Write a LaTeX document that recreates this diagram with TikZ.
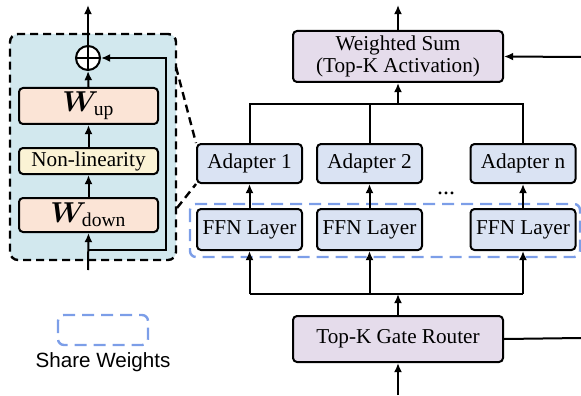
\documentclass[tikz,border=0pt]{standalone}
\usepackage{fontspec}
\usepackage{amsmath}
\usepackage{bm}
\setmainfont{Liberation Serif}
\newfontfamily\legendfont{Liberation Sans}
\usetikzlibrary{arrows.meta}
\definecolor{panelblue}{HTML}{D2E8EE}
\definecolor{peach}{HTML}{FBE4D6}
\definecolor{lightyellow}{HTML}{FBF3D5}
\definecolor{lavender}{HTML}{E5DCEB}
\definecolor{boxblue}{HTML}{DAE3F3}
\definecolor{dashblue}{HTML}{7C9EE8}
\begin{document}
\begin{tikzpicture}[x=0.5pt,y=-0.5pt,
  font=\fontsize{10.6}{12.5}\selectfont,
  box/.style={draw=black, line width=1pt, rounded corners=2pt, inner sep=0pt, align=center},
  wbox/.style={box, fill=peach, minimum width=69.5pt},
  ablock/.style={box, fill=boxblue, minimum width=52.5pt},
  pbox/.style={box, fill=lavender, minimum width=105pt},
  arr/.style={line width=1pt, -{Latex[length=4.6pt,width=4pt]}},
  ln/.style={line width=1pt},
  blackdash/.style={line width=1.2pt, dash pattern=on 4pt off 2.5pt},
  bluedash/.style={draw=dashblue, line width=1.2pt, dash pattern=on 6pt off 3.5pt, rounded corners=3pt}
]
\useasboundingbox (0,0) rectangle (581,395);

% left panel
\node[draw=black, fill=panelblue, blackdash, rounded corners=4pt, minimum width=83pt, minimum height=113pt, inner sep=0pt] (panel) at (93,147) {};
\node[draw=black, line width=1pt, fill=white, circle, minimum size=12pt, inner sep=0pt] (plus) at (88,58) {};
\draw[line width=1pt] (plus.north) -- (plus.south) (plus.west) -- (plus.east);
\node[wbox, minimum height=18pt] (wup) at (88.5,106) {{\fontsize{14}{15}\selectfont$\bm{W}_{\mathrm{up}}$}};
\node[box, fill=lightyellow, minimum width=69.5pt, minimum height=13pt] (nonlin) at (88.5,161) {Non-linearity};
\node[wbox, minimum height=17pt] (wdown) at (88.5,215) {{\fontsize{14}{15}\selectfont$\bm{W}_{\mathrm{down}}$}};
\coordinate (lin) at (88,270);
\coordinate (lout) at (88,5);
\coordinate (rsplit) at (88,250);
\coordinate (rcorner1) at (166,250);
\coordinate (rcorner2) at (166,58);
\draw[arr] (lin) -- (wdown.south);
\draw[arr] (wdown.north) -- (nonlin.south);
\draw[arr] (nonlin.north) -- (wup.south);
\draw[arr] (wup.north) -- (plus.south);
\draw[arr] (plus.north) -- (lout);
\draw[arr] (rsplit) -- (rcorner1) -- (rcorner2) -- (plus.east);

% right part
\node[pbox, minimum height=25.5pt] (wsum) at (398,56.5) {Weighted Sum\\[-1.5pt](Top-K Activation)};
\node[ablock, minimum height=19.5pt] (a1) at (249.5,163.5) {Adapter 1};
\node[ablock, minimum height=19.5pt] (a2) at (369.5,163.5) {Adapter 2};
\node[ablock, minimum height=19.5pt] (an) at (523,163.5) {Adapter n};
\node[ablock, minimum height=20.5pt] (f1) at (249.5,229.5) {FFN Layer};
\node[ablock, minimum height=20.5pt] (f2) at (369.5,229.5) {FFN Layer};
\node[ablock, minimum height=20.5pt] (fn) at (523,229.5) {FFN Layer};
\node[anchor=base, font=\fontsize{12}{14}\selectfont] (dots) at (446,194) {...};
\node[pbox, minimum height=23pt] (router) at (398,339) {Top-K Gate Router};

\draw[bluedash] (190,204) rectangle (580,257);

% upper bus
\coordinate (ub) at (398,104);
\draw[ln] (a1.north) |- (ub);
\draw[ln] (a2.north) |- (ub);
\draw[ln] (an.north) |- (ub);
\draw[arr] (ub) -- (wsum.south);
\coordinate (wsout) at (398,5);
\draw[arr] (wsum.north) -- (wsout);
\coordinate (wsin) at (581,57);
\draw[arr] (wsin) -- (wsum.east);

\draw[arr] (f1.north) -- (a1.south);
\draw[arr] (f2.north) -- (a2.south);
\draw[arr] (fn.north) -- (an.south);

% lower bus
\coordinate (lb) at (398,294);
\coordinate (lb1) at (249.5,294);
\coordinate (lb2) at (369.5,294);
\coordinate (lbn) at (523,294);
\draw[ln] (lb1) -- (lbn);
\draw[arr] (lb1) -- (f1.south);
\draw[arr] (lb2) -- (f2.south);
\draw[arr] (lbn) -- (fn.south);
\draw[arr] (router.north) -- (lb);
\coordinate (rin) at (398,395);
\draw[arr] (rin) -- (router.south);
\coordinate (rout) at (581,338);
\draw[ln] (router.east) -- (rout);

% zoom lines
\coordinate (z1) at (176,67);
\coordinate (z2) at (177,208);
\draw[blackdash] (z1) -- (a1.north west);
\draw[blackdash] (z2) -- (a1.south west);

% legend
\draw[bluedash] (58,315) rectangle (148,345);
\node[font=\legendfont\fontsize{10.3}{12}\selectfont] (legend) at (103,362) {Share Weights};
\end{tikzpicture}
\end{document}
